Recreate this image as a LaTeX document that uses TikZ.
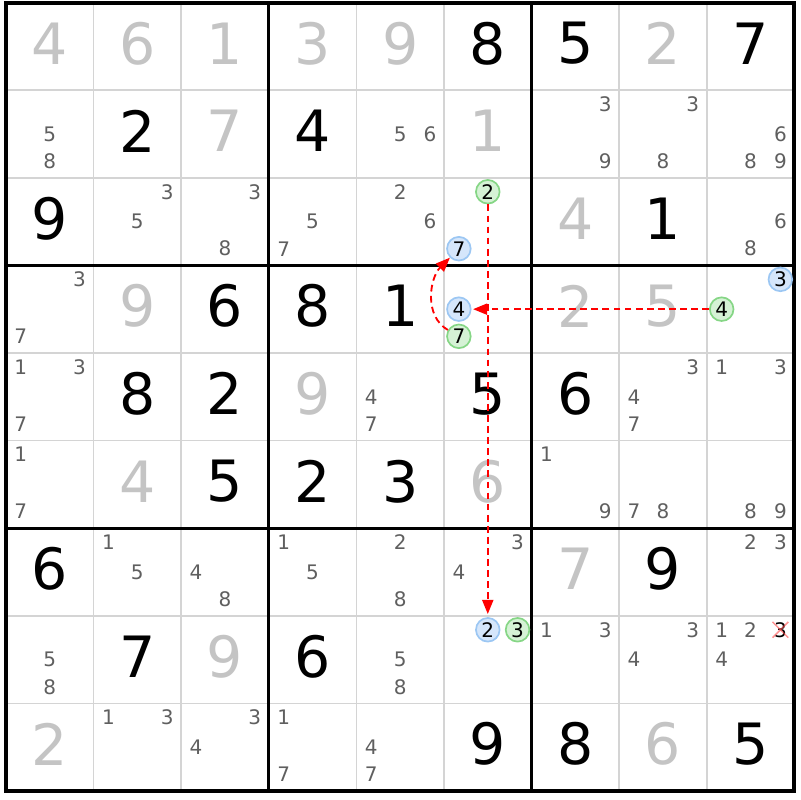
\documentclass[tikz,border=0pt]{standalone}
\usepackage{fontspec}
\setmainfont{DejaVu Sans}
\usetikzlibrary{arrows.meta}

\definecolor{givengray}{HTML}{C4C4C4}
\definecolor{candgray}{HTML}{5F5F5F}
\definecolor{gridgray}{HTML}{D4D4D4}
\definecolor{linkblue}{HTML}{9CC7F3}
\definecolor{linkbluefill}{HTML}{D5E6FB}
\definecolor{linkgreen}{HTML}{86D686}
\definecolor{linkgreenfill}{HTML}{D5F2D5}

\begin{document}
\begin{tikzpicture}
  [given/.style={text=givengray, font=\fontsize{18.5}{20}\selectfont,
         inner sep=0pt, yshift=0.35mm},
   solved/.style={given, text=black},
   cand/.style={text=candgray, font=\fontsize{6.5}{7}\selectfont, inner sep=0pt},
   candblue/.style={cand, text=black, shape=circle, draw=linkblue,
         fill=linkbluefill, line width=0.55pt, minimum size=2.7mm},
   candgreen/.style={candblue, draw=linkgreen, fill=linkgreenfill},
   thingrid/.style={draw=gridgray, line width=0.5pt},
   boxgrid/.style={draw=black, line width=1pt},
   >={Triangle[length=4.6pt, width=3.6pt]}
  ]

 \useasboundingbox (-0.068, 0.029) rectangle (9.064, -9.103);

 \draw [thingrid] (0, 0) grid (9, -9);
 \draw [boxgrid] (0, 0) grid [step=3] (9, -9);
 \draw [boxgrid, line width=1.3pt] (0, 0) rectangle (9, -9);

 \path % row 1
   (0.5, -0.5) node (r1c1) [given]  {4}
   (1.5, -0.5) node (r1c2) [given]  {6}
   (2.5, -0.5) node (r1c3) [given]  {1}
   (3.5, -0.5) node (r1c4) [given]  {3}
   (4.5, -0.5) node (r1c5) [given]  {9}
   (5.5, -0.5) node (r1c6) [solved] {8}
   (6.5, -0.5) node (r1c7) [solved] {5}
   (7.5, -0.5) node (r1c8) [given]  {2}
   (8.5, -0.5) node (r1c9) [solved] {7}
 ;
 \path % row 2
   (0.5, -1.5) +(0, 0)         node (r2c1n5) [cand] {5}
               +(0, -0.31)     node (r2c1n8) [cand] {8}
   (1.5, -1.5) node (r2c2) [solved] {2}
   (2.5, -1.5) node (r2c3) [given]  {7}
   (3.5, -1.5) node (r2c4) [solved] {4}
   (4.5, -1.5) +(0, 0)         node (r2c5n5) [cand] {5}
               +(0.34, 0)      node (r2c5n6) [cand] {6}
   (5.5, -1.5) node (r2c6) [given]  {1}
   (6.5, -1.5) +(0.34, 0.34)   node (r2c7n3) [cand] {3}
               +(0.34, -0.31)  node (r2c7n9) [cand] {9}
   (7.5, -1.5) +(0.34, 0.34)   node (r2c8n3) [cand] {3}
               +(0, -0.31)     node (r2c8n8) [cand] {8}
   (8.5, -1.5) +(0.34, 0)      node (r2c9n6) [cand] {6}
               +(0, -0.31)     node (r2c9n8) [cand] {8}
               +(0.34, -0.31)  node (r2c9n9) [cand] {9}
 ;
 \path % row 3
   (0.5, -2.5) node (r3c1) [solved] {9}
   (1.5, -2.5) +(0.34, 0.34)   node (r3c2n3) [cand] {3}
               +(0, 0)         node (r3c2n5) [cand] {5}
   (2.5, -2.5) +(0.34, 0.34)   node (r3c3n3) [cand] {3}
               +(0, -0.31)     node (r3c3n8) [cand] {8}
   (3.5, -2.5) +(0, 0)         node (r3c4n5) [cand] {5}
               +(-0.33, -0.31) node (r3c4n7) [cand] {7}
   (4.5, -2.5) +(0, 0.34)      node (r3c5n2) [cand] {2}
               +(0.34, 0)      node (r3c5n6) [cand] {6}
   (5.5, -2.5) +(0, 0.34)      node (r3c6n2) [candgreen] {2}
               +(-0.33, -0.31) node (r3c6n7) [candblue]  {7}
   (6.5, -2.5) node (r3c7) [given]  {4}
   (7.5, -2.5) node (r3c8) [solved] {1}
   (8.5, -2.5) +(0.34, 0)      node (r3c9n6) [cand] {6}
               +(0, -0.31)     node (r3c9n8) [cand] {8}
 ;
 \path % row 4
   (0.5, -3.5) +(0.34, 0.34)   node (r4c1n3) [cand] {3}
               +(-0.33, -0.31) node (r4c1n7) [cand] {7}
   (1.5, -3.5) node (r4c2) [given]  {9}
   (2.5, -3.5) node (r4c3) [solved] {6}
   (3.5, -3.5) node (r4c4) [solved] {8}
   (4.5, -3.5) node (r4c5) [solved] {1}
   (5.5, -3.5) +(-0.33, 0)     node (r4c6n4) [candblue]  {4}
               +(-0.33, -0.31) node (r4c6n7) [candgreen] {7}
   (6.5, -3.5) node (r4c7) [given]  {2}
   (7.5, -3.5) node (r4c8) [given]  {5}
   (8.5, -3.5) +(0.34, 0.34)   node (r4c9n3) [candblue]  {3}
               +(-0.33, 0)     node (r4c9n4) [candgreen] {4}
 ;
 \path % row 5
   (0.5, -4.5) +(-0.33, 0.34)  node (r5c1n1) [cand] {1}
               +(0.34, 0.34)   node (r5c1n3) [cand] {3}
               +(-0.33, -0.31) node (r5c1n7) [cand] {7}
   (1.5, -4.5) node (r5c2) [solved] {8}
   (2.5, -4.5) node (r5c3) [solved] {2}
   (3.5, -4.5) node (r5c4) [given]  {9}
   (4.5, -4.5) +(-0.33, 0)     node (r5c5n4) [cand] {4}
               +(-0.33, -0.31) node (r5c5n7) [cand] {7}
   (5.5, -4.5) node (r5c6) [solved] {5}
   (6.5, -4.5) node (r5c7) [solved] {6}
   (7.5, -4.5) +(0.34, 0.34)   node (r5c8n3) [cand] {3}
               +(-0.33, 0)     node (r5c8n4) [cand] {4}
               +(-0.33, -0.31) node (r5c8n7) [cand] {7}
   (8.5, -4.5) +(-0.33, 0.34)  node (r5c9n1) [cand] {1}
               +(0.34, 0.34)   node (r5c9n3) [cand] {3}
 ;
 \path % row 6
   (0.5, -5.5) +(-0.33, 0.34)  node (r6c1n1) [cand] {1}
               +(-0.33, -0.31) node (r6c1n7) [cand] {7}
   (1.5, -5.5) node (r6c2) [given]  {4}
   (2.5, -5.5) node (r6c3) [solved] {5}
   (3.5, -5.5) node (r6c4) [solved] {2}
   (4.5, -5.5) node (r6c5) [solved] {3}
   (5.5, -5.5) node (r6c6) [given]  {6}
   (6.5, -5.5) +(-0.33, 0.34)  node (r6c7n1) [cand] {1}
               +(0.34, -0.31)  node (r6c7n9) [cand] {9}
   (7.5, -5.5) +(-0.33, -0.31) node (r6c8n7) [cand] {7}
               +(0, -0.31)     node (r6c8n8) [cand] {8}
   (8.5, -5.5) +(0, -0.31)     node (r6c9n8) [cand] {8}
               +(0.34, -0.31)  node (r6c9n9) [cand] {9}
 ;
 \path % row 7
   (0.5, -6.5) node (r7c1) [solved] {6}
   (1.5, -6.5) +(-0.33, 0.34)  node (r7c2n1) [cand] {1}
               +(0, 0)         node (r7c2n5) [cand] {5}
   (2.5, -6.5) +(-0.33, 0)     node (r7c3n4) [cand] {4}
               +(0, -0.31)     node (r7c3n8) [cand] {8}
   (3.5, -6.5) +(-0.33, 0.34)  node (r7c4n1) [cand] {1}
               +(0, 0)         node (r7c4n5) [cand] {5}
   (4.5, -6.5) +(0, 0.34)      node (r7c5n2) [cand] {2}
               +(0, -0.31)     node (r7c5n8) [cand] {8}
   (5.5, -6.5) +(0.34, 0.34)   node (r7c6n3) [cand] {3}
               +(-0.33, 0)     node (r7c6n4) [cand] {4}
   (6.5, -6.5) node (r7c7) [given]  {7}
   (7.5, -6.5) node (r7c8) [solved] {9}
   (8.5, -6.5) +(0, 0.34)      node (r7c9n2) [cand] {2}
               +(0.34, 0.34)   node (r7c9n3) [cand] {3}
 ;
 \path % row 8
   (0.5, -7.5) +(0, 0)         node (r8c1n5) [cand] {5}
               +(0, -0.31)     node (r8c1n8) [cand] {8}
   (1.5, -7.5) node (r8c2) [solved] {7}
   (2.5, -7.5) node (r8c3) [given]  {9}
   (3.5, -7.5) node (r8c4) [solved] {6}
   (4.5, -7.5) +(0, 0)         node (r8c5n5) [cand] {5}
               +(0, -0.31)     node (r8c5n8) [cand] {8}
   (5.5, -7.5) +(0, 0.34)      node (r8c6n2) [candblue]  {2}
               +(0.34, 0.34)   node (r8c6n3) [candgreen] {3}
   (6.5, -7.5) +(-0.33, 0.34)  node (r8c7n1) [cand] {1}
               +(0.34, 0.34)   node (r8c7n3) [cand] {3}
   (7.5, -7.5) +(0.34, 0.34)   node (r8c8n3) [cand] {3}
               +(-0.33, 0)     node (r8c8n4) [cand] {4}
   (8.5, -7.5) +(-0.33, 0.34)  node (r8c9n1) [cand] {1}
               +(0, 0.34)      node (r8c9n2) [cand] {2}
               +(0.34, 0.34)   node (r8c9n3) [cand, text=black] {3}
               +(-0.33, 0)     node (r8c9n4) [cand] {4}
 ;
 \path % row 9
   (0.5, -8.5) node (r9c1) [given]  {2}
   (1.5, -8.5) +(-0.33, 0.34)  node (r9c2n1) [cand] {1}
               +(0.34, 0.34)   node (r9c2n3) [cand] {3}
   (2.5, -8.5) +(0.34, 0.34)   node (r9c3n3) [cand] {3}
               +(-0.33, 0)     node (r9c3n4) [cand] {4}
   (3.5, -8.5) +(-0.33, 0.34)  node (r9c4n1) [cand] {1}
               +(-0.33, -0.31) node (r9c4n7) [cand] {7}
   (4.5, -8.5) +(-0.33, 0)     node (r9c5n4) [cand] {4}
               +(-0.33, -0.31) node (r9c5n7) [cand] {7}
   (5.5, -8.5) node (r9c6) [solved] {9}
   (6.5, -8.5) node (r9c7) [solved] {8}
   (7.5, -8.5) node (r9c8) [given]  {6}
   (8.5, -8.5) node (r9c9) [solved] {5}
 ;

 % eliminated candidate
 \begin{scope}[draw=red!70!white, opacity=0.6, line width=0.5pt]
 \draw ([shift={(-0.09, -0.09)}]r8c9n3.center) -- ([shift={(0.09, 0.09)}]r8c9n3.center);
 \draw ([shift={(-0.09, 0.09)}]r8c9n3.center) -- ([shift={(0.09, -0.09)}]r8c9n3.center);
 \end{scope}

 \begin{scope}[red, dash pattern=on 2.2pt off 1.4pt, line width=0.6pt]
 \draw [->, shorten >=1pt] (r3c6n2) -- (r8c6n2);
 \draw [->, shorten >=0.5pt] (r4c9n4) -- (r4c6n4);
 \draw [->] (r4c6n7) to [out=150, in=225] (r3c6n7);
 \end{scope}

\end{tikzpicture}
\end{document}
